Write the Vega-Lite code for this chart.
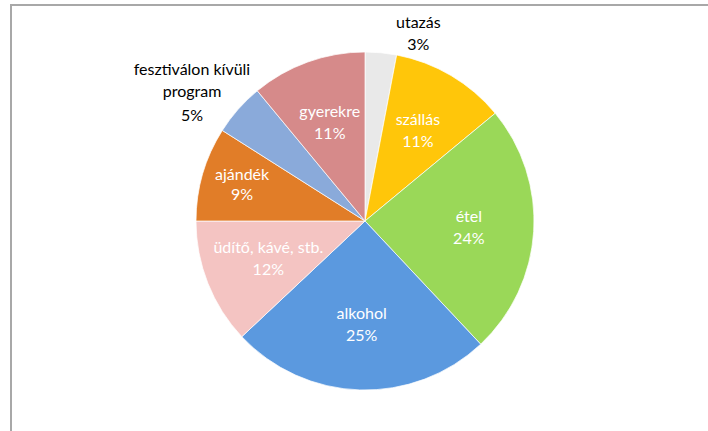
{
  "$schema": "https://vega.github.io/schema/vega-lite/v6.json",
  "width": 708,
  "height": 432,
  "autosize": {"type": "none"},
  "padding": {"left": 11, "top": 5, "right": 0, "bottom": 0},
  "background": "white",
  "config": {"view": {"stroke": null}, "text": {"font": "Lato", "fontSize": 16}},
  "layer": [
    {
      "data": {"values": [{"frame": 1}]},
      "mark": {"type": "rect", "fill": null, "stroke": "#A8A8A8", "strokeWidth": 2},
      "encoding": {}
    },
    {
      "data": {"values": [
        {"name": "utazás", "value": 0.03},
        {"name": "szállás", "value": 0.11},
        {"name": "étel", "value": 0.24},
        {"name": "alkohol", "value": 0.25},
        {"name": "üdítő, kávé, stb.", "value": 0.12},
        {"name": "ajándék", "value": 0.09},
        {"name": "fesztiválon kívüli\nprogram", "value": 0.05},
        {"name": "gyerekre", "value": 0.11}
      ]},
      "transform": [{"window": [{"op": "row_number", "as": "idx"}]}],
      "encoding": {
        "theta": {"field": "value", "type": "quantitative", "stack": true},
        "order": {"field": "idx", "type": "quantitative"}
      },
      "layer": [
        {
          "mark": {"type": "arc", "outerRadius": 169, "stroke": "#ffffff", "strokeWidth": 1, "strokeOpacity": 0.7},
          "encoding": {
            "color": {
              "field": "name", "type": "nominal", "legend": null,
              "scale": {
                "domain": ["utazás", "szállás", "étel", "alkohol", "üdítő, kávé, stb.", "ajándék", "fesztiválon kívüli\nprogram", "gyerekre"],
                "range": ["#E9E9E9", "#FFC60A", "#9AD858", "#5B99DF", "#F4C4C2", "#E17D28", "#8AAADA", "#D68A8A"]
              }
            }
          }
        },
        {
          "mark": {"type": "text", "radius": 104, "color": "white", "dy": -11},
          "encoding": {
            "text": {"condition": {"test": "indexof(['szállás','étel','alkohol','üdítő, kávé, stb.','gyerekre'], datum.name) >= 0", "field": "name"}, "value": ""}
          }
        },
        {
          "mark": {"type": "text", "radius": 104, "color": "white", "dy": 11},
          "encoding": {
            "text": {"condition": {"test": "indexof(['szállás','étel','alkohol','üdítő, kávé, stb.','gyerekre'], datum.name) >= 0", "field": "value", "format": ".0%"}, "value": ""}
          }
        },
        {
          "mark": {"type": "text", "radius": 128, "color": "white", "dy": -10},
          "encoding": {
            "text": {"condition": {"test": "datum.name == 'ajándék'", "field": "name"}, "value": ""}
          }
        },
        {
          "mark": {"type": "text", "radius": 128, "color": "white", "dy": 10},
          "encoding": {
            "text": {"condition": {"test": "datum.name == 'ajándék'", "field": "value", "format": ".0%"}, "value": ""}
          }
        },
        {
          "mark": {"type": "text", "radius": 195, "color": "#000000", "dx": 35, "dy": -4},
          "encoding": {
            "text": {"condition": {"test": "datum.name == 'utazás'", "field": "name"}, "value": ""}
          }
        },
        {
          "mark": {"type": "text", "radius": 195, "color": "#000000", "dx": 35, "dy": 18},
          "encoding": {
            "text": {"condition": {"test": "datum.name == 'utazás'", "field": "value", "format": ".0%"}, "value": ""}
          }
        },
        {
          "mark": {"type": "text", "radius": 216, "color": "#000000", "dx": -11, "dy": 0, "lineBreak": "\n", "lineHeight": 22, "baseline": "bottom"},
          "encoding": {
            "text": {"condition": {"test": "datum.name == 'fesztiválon kívüli\\nprogram'", "field": "name"}, "value": ""}
          }
        },
        {
          "mark": {"type": "text", "radius": 216, "color": "#000000", "dx": -11, "dy": 38},
          "encoding": {
            "text": {"condition": {"test": "datum.name == 'fesztiválon kívüli\\nprogram'", "field": "value", "format": ".0%"}, "value": ""}
          }
        }
      ]
    }
  ]
}
